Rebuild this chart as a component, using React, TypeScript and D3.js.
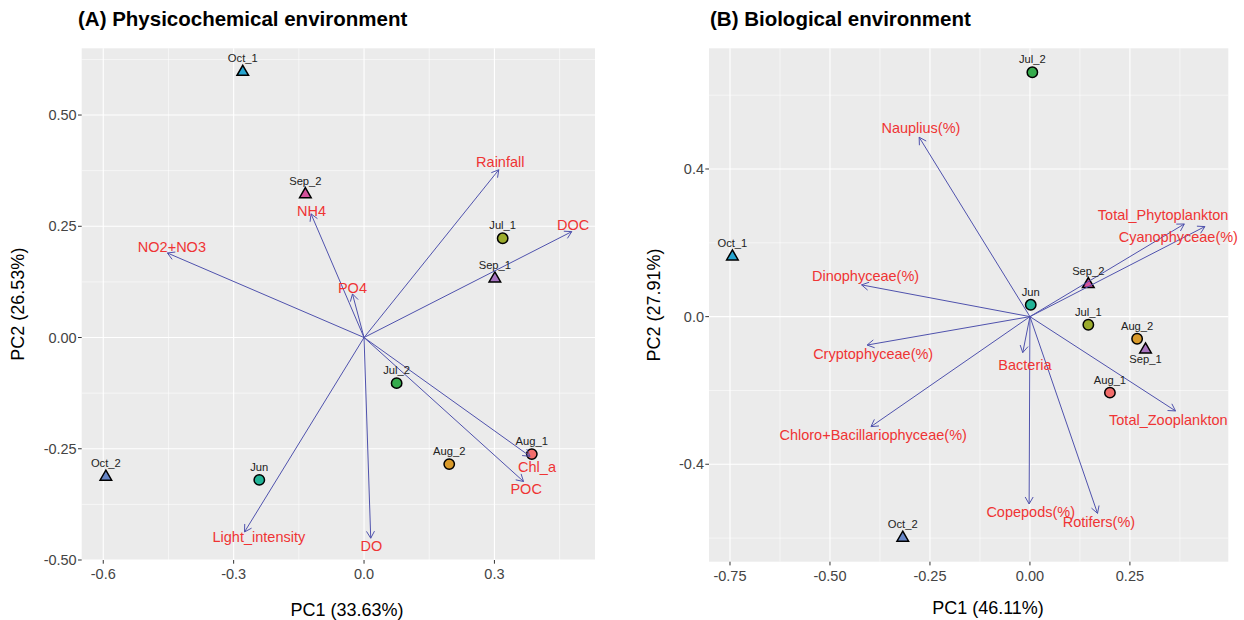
import * as d3 from "d3";
import React from "react";

// samples (shared by both panels)
const sampleNames = ["Jun", "Jul_1", "Jul_2", "Aug_1", "Aug_2", "Sep_1", "Sep_2", "Oct_1", "Oct_2"];
const sampleShapes = ["circle", "circle", "circle", "circle", "circle", "triangle", "triangle", "triangle", "triangle"];
const sampleColors = ["#22b497", "#9bab2c", "#35ab4c", "#f26d6b", "#d99a2a", "#a774c0", "#d5519b", "#27a5d0", "#6685c6"];

// (A) physicochemical environment
const physPC1 = [-0.241, 0.319, 0.075, 0.386, 0.196, 0.301, -0.135, -0.279, -0.594];
const physPC2 = [-0.32, 0.223, -0.1025, -0.262, -0.2845, 0.1335, 0.323, 0.598, -0.312];
const physVars = ["Rainfall", "DOC", "NO2+NO3", "NH4", "PO4", "Light_intensity", "DO", "Chl_a", "POC"];
const physLoad1 = [0.31, 0.478, -0.4525, -0.122, -0.0266, -0.275, 0.0154, 0.382, 0.367];
const physLoad2 = [0.377, 0.238, 0.19, 0.278, 0.098, -0.437, -0.451, -0.267, -0.3236];
const physLab1 = [0.3135, 0.481, -0.442, -0.1206, -0.0266, -0.242, 0.017, 0.398, 0.373];
const physLab2 = [0.3955, 0.253, 0.2045, 0.285, 0.111, -0.449, -0.468, -0.291, -0.3407];
const physXTicks = [-0.6, -0.3, 0, 0.3];
const physYTicks = [-0.5, -0.25, 0, 0.25, 0.5];

// (B) biological environment
const bioPC1 = [0.002, 0.146, 0.006, 0.2, 0.268, 0.289, 0.146, -0.744, -0.318];
const bioPC2 = [0.032, -0.022, 0.662, -0.206, -0.06, -0.088, 0.089, 0.164, -0.598];
const bioVars = ["Nauplius(%)", "Total_Phytoplankton", "Cyanophyceae(%)", "Dinophyceae(%)", "Cryptophyceae(%)", "Bacteria", "Chloro+Bacillariophyceae(%)", "Total_Zooplankton", "Copepods(%)", "Rotifers(%)"];
const bioLoad1 = [-0.277, 0.386, 0.4375, -0.421, -0.407, -0.018, -0.3975, 0.364, -0.002, 0.169];
const bioLoad2 = [0.486, 0.251, 0.244, 0.086, -0.077, -0.0975, -0.298, -0.2555, -0.5075, -0.533];
const bioLab1 = [-0.2725, 0.333, 0.371, -0.411, -0.392, -0.0125, -0.392, 0.346, 0.002, 0.1725];
const bioLab2 = [0.511, 0.274, 0.217, 0.11, -0.101, -0.131, -0.322, -0.28, -0.53, -0.557];
const bioXTicks = [-0.75, -0.5, -0.25, 0, 0.25];
const bioYTicks = [-0.4, 0, 0.4];

const FONT = "'Liberation Sans', Arial, Helvetica, sans-serif";
const ARROW = "#4f52ad";
const RED = "#ef3434";

type PanelProps = {
  title: string
  titleX: number
  xTitle: string
  yTitle: string
  xDomain: [number, number]
  yDomain: [number, number]
  box: { l: number, r: number, t: number, b: number }
  xTicks: number[]
  yTicks: number[]
  xDigits: number
  yDigits: number
  pc1: number[]
  pc2: number[]
  vars: string[]
  load1: number[]
  load2: number[]
  lab1: number[]
  lab2: number[]
  below: string[]
  yTitleX: number
  xTitlePos: [number, number]
}

const mids = (t: number[]) => {
  const step = t[1] - t[0]
  return [t[0] - step / 2, ...t.map(v => v + step / 2)]
}

const Panel: React.FC<PanelProps> = (p) => {
  const { l, r, t, b } = p.box
  const x = d3.scaleLinear(p.xDomain, [l, r])
  const y = d3.scaleLinear(p.yDomain, [b, t])
  const inX = (v: number) => v >= p.xDomain[0] && v <= p.xDomain[1]
  const inY = (v: number) => v >= p.yDomain[0] && v <= p.yDomain[1]
  const tri = d3.symbol(d3.symbolTriangle, 58)()

  return (
    <g fontFamily={FONT}>
      <text x={p.titleX} y={26} fontSize={20.5} fontWeight="bold" fill="#000">{p.title}</text>
      <rect x={l} y={t} width={r - l} height={b - t} fill="#ebebeb" />
      {mids(p.xTicks).filter(inX).map((v, i) => <line key={"mx" + i} x1={x(v)} x2={x(v)} y1={t} y2={b} stroke="#fff" strokeWidth={0.55} />)}
      {mids(p.yTicks).filter(inY).map((v, i) => <line key={"my" + i} y1={y(v)} y2={y(v)} x1={l} x2={r} stroke="#fff" strokeWidth={0.55} />)}
      {p.xTicks.map((v, i) => <line key={"gx" + i} x1={x(v)} x2={x(v)} y1={t} y2={b} stroke="#fff" strokeWidth={1.1} />)}
      {p.yTicks.map((v, i) => <line key={"gy" + i} y1={y(v)} y2={y(v)} x1={l} x2={r} stroke="#fff" strokeWidth={1.1} />)}

      {/* axes */}
      {p.xTicks.map((v, i) => (
        <g key={"tx" + i}>
          <line x1={x(v)} x2={x(v)} y1={b} y2={b + 3.7} stroke="#333" strokeWidth={1} />
          <text x={x(v)} y={b + 19} fontSize={14.5} fill="#444" textAnchor="middle">{v.toFixed(p.xDigits)}</text>
        </g>
      ))}
      {p.yTicks.map((v, i) => (
        <g key={"ty" + i}>
          <line x1={l - 3.7} x2={l} y1={y(v)} y2={y(v)} stroke="#333" strokeWidth={1} />
          <text x={l - 5} y={y(v) + 5} fontSize={14.5} fill="#444" textAnchor="end">{v.toFixed(p.yDigits)}</text>
        </g>
      ))}
      <text x={p.xTitlePos[0]} y={p.xTitlePos[1]} fontSize={18} textAnchor="middle" fill="#000">{p.xTitle}</text>
      <text transform={`translate(${p.yTitleX},${(t + b) / 2}) rotate(-90)`} fontSize={18} textAnchor="middle" fill="#000">{p.yTitle}</text>

      {/* samples */}
      {sampleNames.map((n, i) => {
        const cx = x(p.pc1[i]), cy = y(p.pc2[i])
        return sampleShapes[i] === "circle"
          ? <circle key={"pt" + n} cx={cx} cy={cy} r={5.2} fill={sampleColors[i]} stroke="#000" strokeWidth={1.5} />
          : <path key={"pt" + n} d={tri || ""} transform={`translate(${cx},${cy + 0.5})`} fill={sampleColors[i]} stroke="#000" strokeWidth={1.5} />
      })}

      {/* loading arrows */}
      {p.vars.map((n, i) => {
        const x0 = x(0), y0 = y(0), x1 = x(p.load1[i]), y1 = y(p.load2[i])
        const a = Math.atan2(y1 - y0, x1 - x0)
        const len = 8, sp = Math.PI / 6
        const h1 = [x1 - len * Math.cos(a - sp), y1 - len * Math.sin(a - sp)]
        const h2 = [x1 - len * Math.cos(a + sp), y1 - len * Math.sin(a + sp)]
        return (
          <g key={"ar" + n} stroke={ARROW} strokeWidth={1} fill="none">
            <line x1={x0} y1={y0} x2={x1} y2={y1} />
            <polyline points={`${h1[0]},${h1[1]} ${x1},${y1} ${h2[0]},${h2[1]}`} />
          </g>
        )
      })}

      {sampleNames.map((n, i) => {
        const dy = p.below.includes(n) ? 13.5 : -9
        return <text key={"sl" + n} x={x(p.pc1[i])} y={y(p.pc2[i]) + dy} fontSize={11.2} fill="#222" textAnchor="middle">{n}</text>
      })}
      {p.vars.map((n, i) => (
        <text key={"vl" + n} x={x(p.lab1[i])} y={y(p.lab2[i]) + 5} fontSize={14.5} fill={RED} textAnchor="middle">{n}</text>
      ))}
    </g>
  )
}

export default function App() {
  return (
    <svg width={1244} height={620} style={{ position: "absolute", left: 0, top: 0, background: "#fff" }}>
      <Panel
        title="(A) Physicochemical environment" titleX={78} xTitle="PC1 (33.63%)" yTitle="PC2 (26.53%)"
        xDomain={[-0.6496, 0.5314]} yDomain={[-0.5, 0.65]}
        box={{ l: 81.7, r: 595, t: 48.3, b: 560 }}
        xTicks={physXTicks} yTicks={physYTicks} xDigits={1} yDigits={2}
        pc1={physPC1} pc2={physPC2} vars={physVars}
        load1={physLoad1} load2={physLoad2} lab1={physLab1} lab2={physLab2}
        below={[]} yTitleX={24} xTitlePos={[347, 616]}
      />
      <Panel
        title="(B) Biological environment" titleX={710} xTitle="PC1 (46.11%)" yTitle="PC2 (27.91%)"
        xDomain={[-0.8025, 0.496]} yDomain={[-0.664, 0.727]}
        box={{ l: 709, r: 1228.3, t: 48.3, b: 561.7 }}
        xTicks={bioXTicks} yTicks={bioYTicks} xDigits={2} yDigits={1}
        pc1={bioPC1} pc2={bioPC2} vars={bioVars}
        load1={bioLoad1} load2={bioLoad2} lab1={bioLab1} lab2={bioLab2}
        below={["Sep_1"]} yTitleX={660} xTitlePos={[988, 614]}
      />
    </svg>
  )
}
